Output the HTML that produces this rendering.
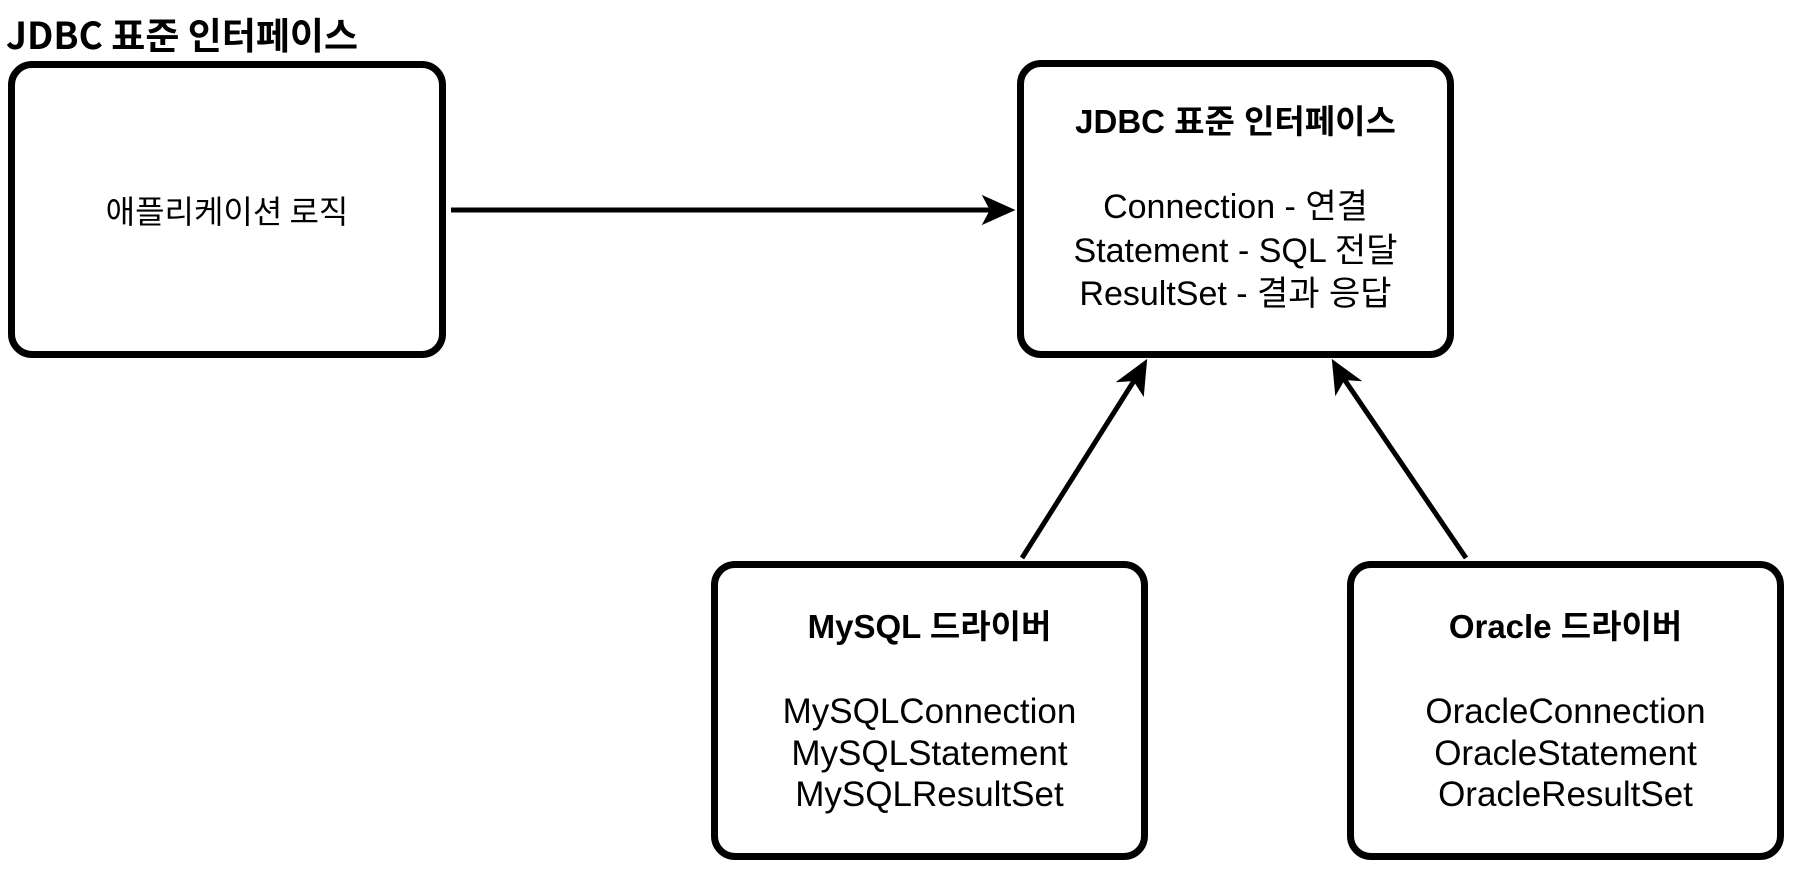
<!DOCTYPE html>
<html><head><meta charset="utf-8"><style>
html,body{margin:0;padding:0;background:#fff;}
body{width:1804px;height:890px;position:relative;overflow:hidden;font-family:"Liberation Sans","Noto Sans CJK KR",sans-serif;color:#000;}
.box{position:absolute;border:7px solid #000;border-radius:24px;box-sizing:border-box;background:#fff;}
.t{position:absolute;left:0;right:0;text-align:center;font-size:30px;white-space:nowrap;}
.b{font-weight:bold;}
</style></head><body>
<div style="position:absolute;left:6px;top:8px;font-size:37px;font-weight:bold;font-family:'Noto Sans CJK KR',sans-serif;line-height:50px;">JDBC 표준 인터페이스</div>

<div class="box" style="left:8px;top:61px;width:438px;height:297px;">
  <div class="t" style="top:122px;font-family:'Noto Sans CJK KR',sans-serif;font-size:32px;line-height:40px;">애플리케이션 로직</div>
</div>

<div class="box" style="left:1017px;top:60px;width:437px;height:298px;">
  <div class="t b" style="top:37px;line-height:36px;font-size:33px;">JDBC 표준 인터페이스</div>
  <div class="t" style="top:119px;line-height:43.5px;font-size:34px;">Connection - 연결<br>Statement - SQL 전달<br>ResultSet - 결과 응답</div>
</div>

<div class="box" style="left:711px;top:561px;width:437px;height:299px;">
  <div class="t b" style="top:41px;line-height:36px;font-size:33px;">MySQL 드라이버</div>
  <div class="t" style="top:123px;line-height:41.6px;font-size:35px;">MySQLConnection<br>MySQLStatement<br>MySQLResultSet</div>
</div>

<div class="box" style="left:1347px;top:561px;width:437px;height:299px;">
  <div class="t b" style="top:41px;line-height:36px;font-size:33px;">Oracle 드라이버</div>
  <div class="t" style="top:123px;line-height:41.6px;font-size:35px;">OracleConnection<br>OracleStatement<br>OracleResultSet</div>
</div>

<svg width="1804" height="890" style="position:absolute;left:0;top:0;pointer-events:none;">
  <g stroke="#000" stroke-width="5" fill="#000">
    <line x1="451" y1="210" x2="996" y2="210"/>
    <polygon points="1013,210 984,197 991,210 984,223" stroke-width="2"/>
    <line x1="1022" y1="558" x2="1137" y2="376"/>
    <polygon points="1146,361 1143,394 1134,380 1119,381" stroke-width="2"/>
    <line x1="1466" y1="558" x2="1342" y2="376"/>
    <polygon points="1333,361 1359,380 1344,379 1336,393" stroke-width="2"/>
  </g>
</svg>
</body></html>
